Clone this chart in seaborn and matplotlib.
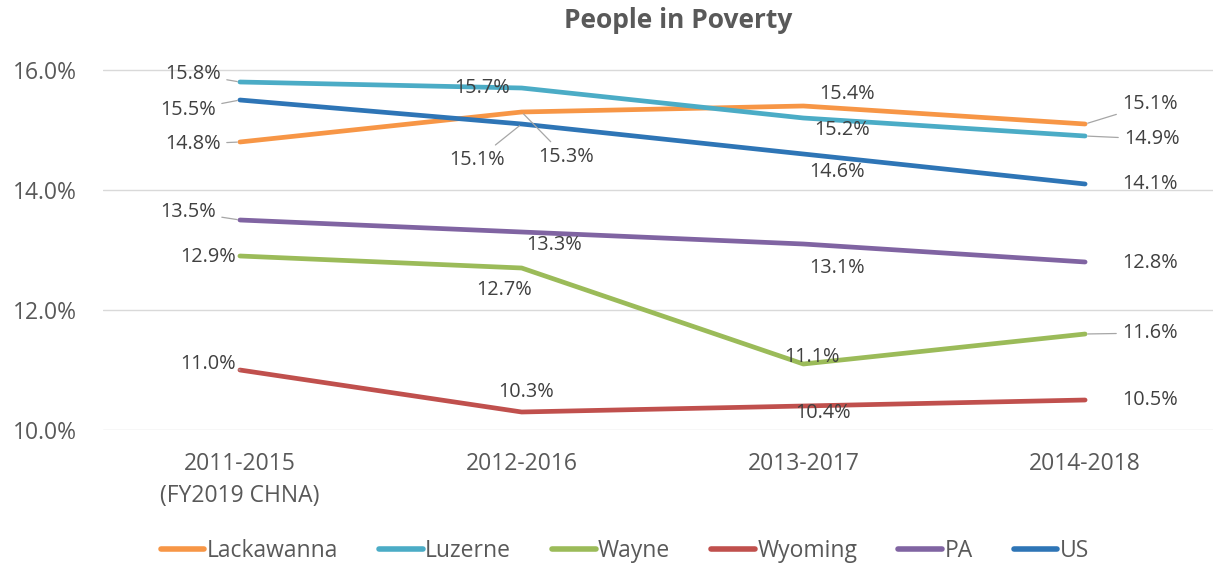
import matplotlib
matplotlib.use("Agg")
import matplotlib.pyplot as plt
import seaborn as sns
import pandas as pd

periods = ["2011-2015\n(FY2019 CHNA)", "2012-2016", "2013-2017", "2014-2018"]
lackawanna = [14.8, 15.3, 15.4, 15.1]
luzerne = [15.8, 15.7, 15.2, 14.9]
wayne = [12.9, 12.7, 11.1, 11.6]
wyoming = [11.0, 10.3, 10.4, 10.5]
pa = [13.5, 13.3, 13.1, 12.8]
us = [15.5, 15.1, 14.6, 14.1]
series_names = ["Lackawanna", "Luzerne", "Wayne", "Wyoming", "PA", "US"]
y_ticks = [10.0, 12.0, 14.0, 16.0]

colors = ["#F79646", "#4BACC6", "#9BBB59", "#C0504D", "#8064A2", "#2E75B6"]
all_series = [lackawanna, luzerne, wayne, wyoming, pa, us]

rows = []
for name, vals in zip(series_names, all_series):
    for i, v in enumerate(vals):
        rows.append({"x": i, "value": v, "series": name})
df = pd.DataFrame(rows)

# label offsets in pixels (dx, dy with dy downward) and whether a leader is drawn
label_offsets = {
    "Lackawanna": [(-47, 2, True), (44, 45, True), (44, -12, False), (65, -20, True)],
    "Luzerne": [(-47, -8, True), (-40, 0, False), (39, 12, False), (67, 3, True)],
    "Wayne": [(-32, 1, False), (-18, 22, False), (9, -7, False), (65, -1, True)],
    "Wyoming": [(-32, -6, True), (4, -20, False), (20, 7, False), (65, 0, False)],
    "PA": [(-52, -8, True), (32, 13, False), (34, 24, False), (65, 1, False)],
    "US": [(-52, 10, True), (-45, 36, True), (34, 18, False), (65, 0, False)],
}

sns.set_theme(style="white")
plt.rcParams["font.family"] = ["Open Sans", "DejaVu Sans"]

fig = plt.figure(figsize=(12.13, 5.69), dpi=100)
ax = fig.add_axes([103 / 1213, 1 - 430 / 569, 1 - 103 / 1213, (430 - 34) / 569])

sns.lineplot(data=df, x="x", y="value", hue="series", hue_order=series_names,
             palette=colors, linewidth=3.4, ax=ax, legend=True,
             solid_capstyle="round")

for name, vals, col in zip(series_names, all_series, colors):
    for i, v in enumerate(vals):
        dx, dy, leader = label_offsets[name][i]
        kw = {}
        if leader:
            kw["arrowprops"] = dict(arrowstyle="-", color="#a6a6a6", lw=0.9,
                                    shrinkA=2, shrinkB=2)
        ax.annotate(f"{v:.1f}%", xy=(i, v), xytext=(dx, -dy),
                    textcoords="offset pixels", ha="center", va="center",
                    fontsize=14.3, color="#404040", zorder=5, **kw)

ax.set_xlim(-0.486, 3.454)
ax.set_ylim(10, 16.6)
ax.set_yticks(y_ticks)
ax.set_yticklabels([f"{t:.1f}%" for t in y_ticks], fontsize=16.5, color="#595959")
ax.set_xticks(range(len(periods)))
ax.set_xticklabels(periods, fontsize=16.5, color="#595959", linespacing=1.45)
ax.tick_params(axis="y", pad=19, length=0)
ax.tick_params(axis="x", pad=16, length=0)
ax.yaxis.grid(True, color="#d9d9d9", lw=1)
ax.set_axisbelow(True)
for s in ax.spines.values():
    s.set_visible(False)
ax.set_xlabel("")
ax.set_ylabel("")

fig.text(0.559, 1 - 21 / 569, "People in Poverty", ha="center", va="center",
         fontsize=19, fontweight="bold", color="#595959")

handles, labels = ax.get_legend_handles_labels()
ax.legend_.remove()
leg = fig.legend(handles, labels, loc="center", bbox_to_anchor=(0.515, 1 - 551 / 569),
                 ncol=6, frameon=False, handlelength=1.9,
                 handletextpad=0.1, columnspacing=1.8,
                 prop={"family": ["Open Sans"], "size": 16.5})
for t in leg.get_texts():
    t.set_color("#595959")
for line in leg.get_lines():
    line.set_linewidth(4)
    line.set_solid_capstyle("round")

fig.savefig("out.png", dpi=100)
